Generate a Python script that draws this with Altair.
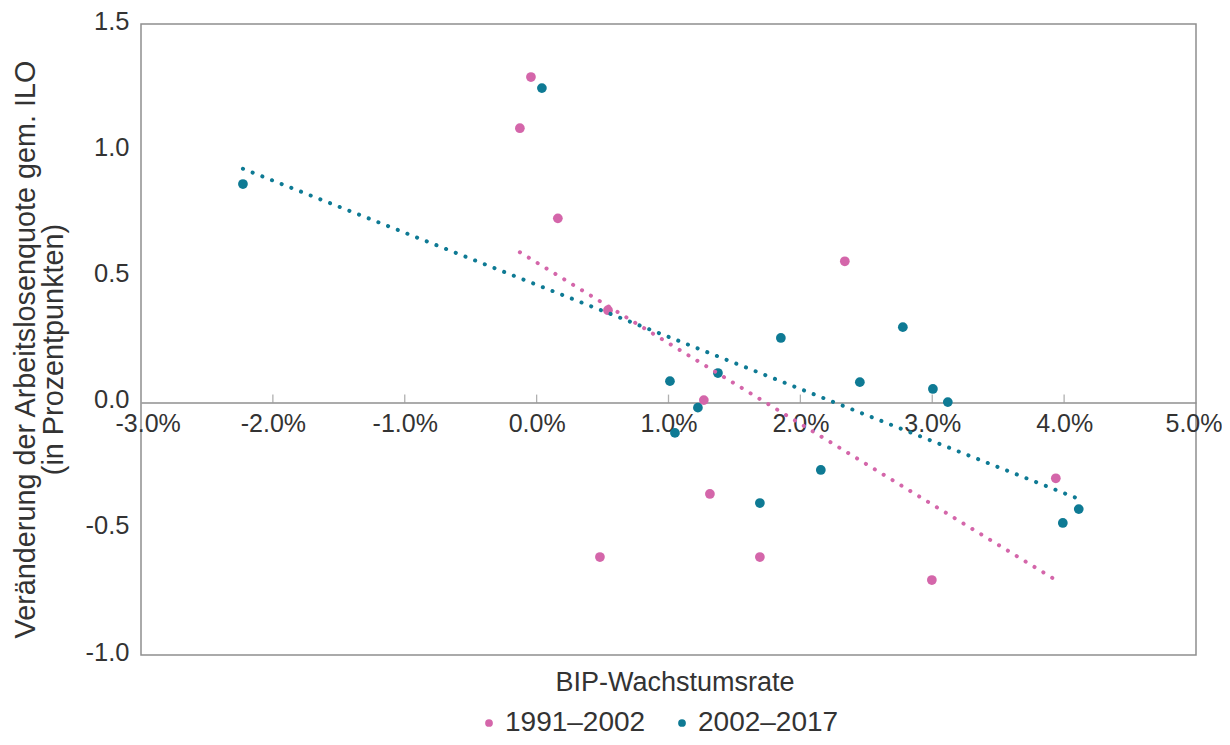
import altair as alt
import pandas as pd

# ---- data ----
series_names = ["1991–2002", "2002–2017"]
series_colors = ["#d466aa", "#0e7a94"]

gdp_a = [-0.043, -0.127, 0.161, 0.541, 1.268, 2.337, 1.314, 0.48, 1.693, 2.997, 3.937]
unemp_a = [1.29, 1.087, 0.73, 0.366, 0.01, 0.56, -0.362, -0.612, -0.612, -0.703, -0.30]

gdp_b = [-2.227, 0.04, 1.011, 1.049, 1.223, 1.375, 1.852, 1.693, 2.155, 2.451,
         2.777, 3.005, 3.118, 3.99, 4.111]
unemp_b = [0.866, 1.246, 0.085, -0.12, -0.02, 0.117, 0.256, -0.398, -0.267, 0.081,
           0.299, 0.054, 0.002, -0.477, -0.422]

x_ticks = [-3, -2, -1, 0, 1, 2, 3, 4, 5]
y_ticks = [-1.0, -0.5, 0.0, 0.5, 1.0, 1.5]
x_title = "BIP-Wachstumsrate"
y_title = ["Veränderung der Arbeitslosenquote gem. ILO", "(in Prozentpunkten)"]

df = pd.DataFrame({
    "gdp": gdp_a + gdp_b,
    "unemp": unemp_a + unemp_b,
    "series": [series_names[0]] * len(gdp_a) + [series_names[1]] * len(gdp_b),
})
tick_df = pd.DataFrame({"gdp": x_ticks[1:-1]})

W, H = 1055, 631
FONT = "Liberation Sans"
TXT = "#333333"
GRAY = "#8f8f8f"

xscale = alt.Scale(domain=[x_ticks[0], x_ticks[-1]], nice=False, zero=False)
yscale = alt.Scale(domain=[y_ticks[0], y_ticks[-1]], nice=False, zero=False)
y0_px = H * (y_ticks[-1] - 0) / (y_ticks[-1] - y_ticks[0])

x_axis = alt.Axis(
    values=x_ticks, title=x_title, offset=-(H - y0_px), ticks=False,
    domain=True, domainColor=GRAY, domainWidth=1.5,
    labelExpr="replace(format(datum.value, '.1f'), '\u2212', '-') + '%'",
    labelPadding=9, labelFontSize=25, labelFont=FONT, labelColor=TXT,
    labelFlush=True, labelFlushOffset=26,
    titleFontSize=27, titleFont=FONT, titleColor=TXT, titleFontWeight="normal",
    titleY=288, titleX=(W / 2) + 6, titleBaseline="alphabetic", grid=False,
)
y_axis = alt.Axis(
    values=y_ticks, title=y_title, ticks=False, domain=False,
    labelExpr="replace(format(datum.value, '.1f'), '\u2212', '-')",
    labelPadding=12, labelFontSize=25.5, labelFont=FONT, labelColor=TXT,
    labelOffset=-3,
    titleFontSize=28.8, titleFont=FONT, titleColor=TXT, titleFontWeight="normal",
    titleAngle=-90, titleAlign="center", titleBaseline="middle",
    titleX=-116, titleY=325, titleLineHeight=28, grid=False,
)

color_scale = alt.Scale(domain=series_names, range=series_colors)
color = alt.Color(
    "series:N",
    scale=color_scale,
    legend=alt.Legend(
        title=None, orient="none", legendX=334, legendY=685, direction="horizontal",
        symbolType="circle", symbolSize=60, labelFontSize=28, labelFont=FONT,
        labelColor=TXT, columnPadding=22, labelOffset=2, padding=0,
        symbolStrokeWidth=0,
    ),
)

points = alt.Chart(df).mark_circle(size=95, opacity=1).encode(
    x=alt.X("gdp:Q", scale=xscale, axis=x_axis),
    y=alt.Y("unemp:Q", scale=yscale, axis=y_axis),
    color=color,
)

lines = alt.Chart(df).transform_regression(
    "gdp", "unemp", groupby=["series"]
).mark_line(
    strokeDash=[0.1, 10.3], strokeCap="round", strokeWidth=4
).encode(
    x=alt.X("gdp:Q", scale=xscale, axis=x_axis),
    y=alt.Y("unemp:Q", scale=yscale, axis=y_axis),
    color=color,
)

ticks = alt.Chart(tick_df).mark_tick(
    orient="vertical", size=8, thickness=1.3, color=GRAY, yOffset=-4
).encode(
    x=alt.X("gdp:Q", scale=xscale, axis=x_axis),
    y=alt.Y(datum=0, type="quantitative", scale=yscale, axis=y_axis),
)

chart = alt.layer(points, ticks, lines).properties(
    width=W, height=H,
    background="white",
    autosize=alt.AutoSizeParams(type="none"),
    padding={"left": 133, "top": 16, "right": 26, "bottom": 82},
).configure_view(stroke=GRAY, strokeWidth=1.5)

chart.save("out.html", embed_options={"renderer": "svg", "actions": False})
